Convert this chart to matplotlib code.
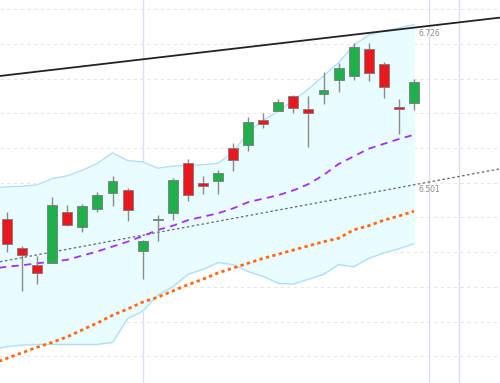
import matplotlib
matplotlib.use("Agg")
import matplotlib.pyplot as plt
import numpy as np

# candles (index 0..27)
opens = [6.448, 6.406, 6.381, 6.385, 6.458, 6.436, 6.462, 6.485, 6.490, 6.402,
         6.446, 6.457, 6.529, 6.499, 6.503, 6.550, 6.555, 6.591, 6.604, 6.625,
         6.606, 6.628, 6.648, 6.654, 6.693, 6.671, 6.609, 6.615]
highs = [6.458, 6.409, 6.395, 6.479, 6.468, 6.469, 6.487, 6.509, 6.493, 6.417,
         6.454, 6.507, 6.534, 6.510, 6.518, 6.557, 6.594, 6.601, 6.621, 6.627,
         6.625, 6.659, 6.672, 6.701, 6.702, 6.674, 6.620, 6.650]
lows = [6.400, 6.344, 6.354, 6.384, 6.438, 6.429, 6.458, 6.467, 6.445, 6.361,
        6.416, 6.446, 6.474, 6.484, 6.484, 6.517, 6.546, 6.579, 6.604, 6.600,
        6.552, 6.613, 6.631, 6.648, 6.646, 6.622, 6.570, 6.605]
closes = [6.412, 6.396, 6.370, 6.468, 6.439, 6.467, 6.482, 6.502, 6.461, 6.416,
          6.448, 6.504, 6.482, 6.495, 6.514, 6.533, 6.588, 6.585, 6.616, 6.608,
          6.601, 6.633, 6.665, 6.695, 6.658, 6.638, 6.606, 6.645]

# indicator lines start one bar earlier (index -1)
band_upper = [6.492, 6.494, 6.495, 6.497, 6.506, 6.510, 6.518, 6.528, 6.543, 6.532,
              6.530, 6.521, 6.524, 6.525, 6.526, 6.528, 6.544, 6.573, 6.590, 6.603,
              6.619, 6.635, 6.654, 6.673, 6.698, 6.713, 6.719, 6.723, 6.728]
band_lower = [6.259, 6.264, 6.266, 6.267, 6.267, 6.267, 6.267, 6.267, 6.270, 6.304,
              6.315, 6.338, 6.350, 6.368, 6.375, 6.385, 6.382, 6.372, 6.365, 6.355,
              6.354, 6.361, 6.368, 6.382, 6.379, 6.391, 6.399, 6.405, 6.412]
band_mid = [6.376, 6.379, 6.381, 6.384, 6.386, 6.389, 6.395, 6.401, 6.408, 6.415,
            6.423, 6.432, 6.438, 6.446, 6.451, 6.456, 6.463, 6.472, 6.477, 6.482,
            6.489, 6.498, 6.511, 6.527, 6.538, 6.549, 6.556, 6.563, 6.569]
slow_ma = [6.239, 6.247, 6.255, 6.263, 6.270, 6.278, 6.288, 6.298, 6.309, 6.318,
           6.328, 6.335, 6.344, 6.353, 6.361, 6.370, 6.377, 6.384, 6.391, 6.397,
           6.403, 6.409, 6.415, 6.420, 6.432, 6.438, 6.446, 6.452, 6.459]

# trend lines: two anchor points each (bar index, price)
resist_pts = [(0, 6.655), (28, 6.726)]
support_pts = [(0, 6.388), (28, 6.501)]
marker_bars = [9, 28, 30]

n = len(opens)
xs = np.arange(n)
xs_ind = np.arange(-1, n)

fig = plt.figure(figsize=(5, 3.83), dpi=100)
ax = fig.add_axes([0, 0, 1, 1])
ax.set_xlim(-0.465, 32.71)
ax.set_ylim(6.2114, 6.7633)
ax.axis("off")

for lvl in np.arange(6.20, 6.80, 0.05):
    ax.axhline(lvl, color="#e6e6e6", lw=0.8, ls=(0, (3, 3)), zorder=0)
for b in marker_bars:
    ax.axvline(b, color="#dde0ea", lw=1.0, zorder=0)

ax.fill_between(xs_ind, band_lower, band_upper, color="#e9fcff", zorder=1)
ax.plot(xs_ind, band_upper, color="#b0dcf7", lw=0.9, zorder=2)
ax.plot(xs_ind, band_lower, color="#b0dcf7", lw=0.9, zorder=2)

ax.axline(resist_pts[0], resist_pts[1], color="#222222", lw=1.3, zorder=3)
ax.axline(support_pts[0], support_pts[1], color="#666666", lw=0.9,
          ls=(0, (2, 2)), zorder=3)

ax.plot(xs_ind, slow_ma, color="#ff6a13", lw=2.0, ls=(0, (1.2, 1.2)), zorder=3)
ax.plot(xs_ind, band_mid, color="#a22ff5", lw=1.3, ls=(0, (4, 3)), zorder=3)

up = [c >= o for o, c in zip(opens, closes)]
colors = ["#1fb04b" if u else "#e8181e" for u in up]
bottoms = [min(o, c) for o, c in zip(opens, closes)]
heights = [max(abs(c - o), 0.0015) for o, c in zip(opens, closes)]
ax.vlines(xs, lows, highs, color="#8a8a8a", lw=1.0, zorder=4)
ax.bar(xs, heights, bottom=bottoms, width=0.66, color=colors,
       edgecolor="#7a7a7a", linewidth=0.6, zorder=5)

for pts in (resist_pts, support_pts):
    (x0, y0), (x1, y1) = pts
    val = y0 + (y1 - y0) * (28 - x0) / (x1 - x0)
    ax.text(28, val - 0.004, f"{val:.3f}", ha="center", va="top",
            fontsize=5.5, color="#8c8c8c")

fig.savefig("out.png", dpi=100)
